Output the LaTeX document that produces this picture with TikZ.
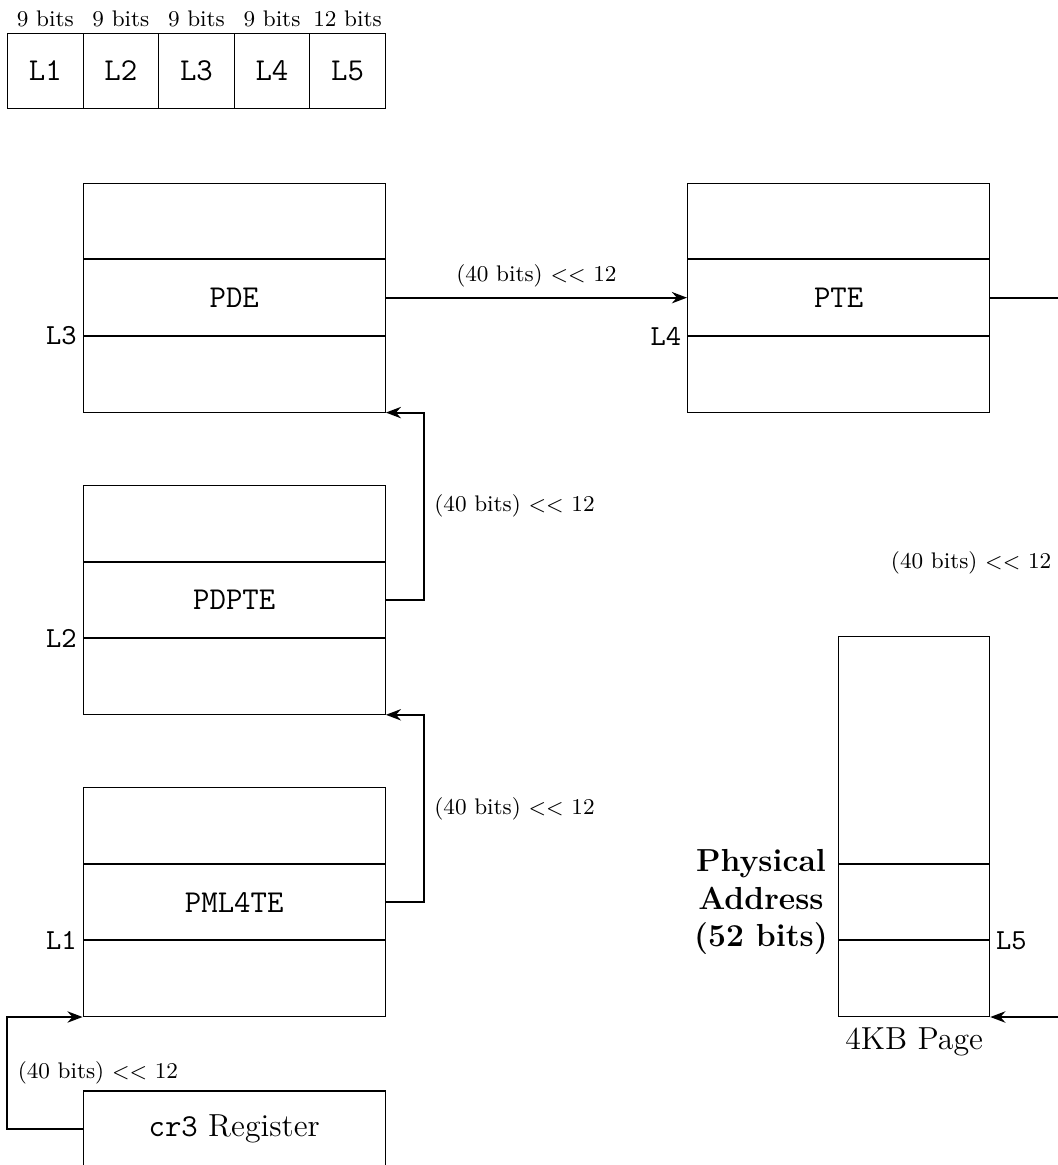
\documentclass[tikz,border=0pt,11pt]{standalone}
\usepackage{amsmath,amssymb}
\usetikzlibrary{arrows.meta, positioning, calc}

\begin{document}
\begin{tikzpicture}[
    node distance=0cm,
    cell/.style={rectangle, draw, minimum width=1cm, minimum height=1cm, inner sep=0pt, font=\large\ttfamily},
    entry/.style={rectangle, draw, minimum width=4cm, minimum height=1cm, inner sep=0pt, font=\large\ttfamily},
    pagepart/.style={rectangle, draw, minimum width=2cm, minimum height=1cm, inner sep=0pt},
    arrow/.style={-{Stealth[length=2mm]}, thick},
    shiftlabel/.style={font=\fontsize{8.5}{10}\selectfont},
    level/.style={font=\ttfamily, inner sep=2pt}
]
\useasboundingbox (-0.1,0.44) rectangle (13.9,-14.98);

% Virtual address fields
\foreach \i/\bits in {1/9, 2/9, 3/9, 4/9, 5/12} {
    \node[cell] (field\i) at (\i-0.5,-0.5) {L\i};
    \node[shiftlabel, above, inner sep=2pt] (bits\i) at (field\i.north) {\bits~bits};
}

% Left column: page-table entries
\node[entry] (pde) at (3,-3.5) {PDE};
\node[entry, above=of pde] (pde_top) {};
\node[entry, below=of pde] (pde_bot) {};

\node[entry] (pdpte) at (3,-7.5) {PDPTE};
\node[entry, above=of pdpte] (pdpte_top) {};
\node[entry, below=of pdpte] (pdpte_bot) {};

\node[entry] (pml4te) at (3,-11.5) {PML4TE};
\node[entry, above=of pml4te] (pml4te_top) {};
\node[entry, below=of pml4te] (pml4te_bot) {};

\node[entry, font=\large\normalfont] (cr3) at (3,-14.5) {\texttt{cr3} Register};

% Right column: PTE and the page
\node[entry] (pte) at (11,-3.5) {PTE};
\node[entry, above=of pte] (pte_top) {};
\node[entry, below=of pte] (pte_bot) {};

\node[pagepart] (page_mid) at (12,-11.5) {};
\node[pagepart, minimum height=3cm, above=of page_mid] (page_top) {};
\node[pagepart, below=of page_mid] (page_bot) {};

% Level labels
\node[level, left] (lvl1) at (pml4te_bot.north west) {L1};
\node[level, left] (lvl2) at (pdpte_bot.north west) {L2};
\node[level, left] (lvl3) at (pde_bot.north west) {L3};
\node[level, left] (lvl4) at (pte_bot.north west) {L4};
\node[level, right] (lvl5) at (page_bot.north east) {L5};

\node[left, font=\large\bfseries, align=center] (phys) at (page_mid.west) {Physical\\Address\\(52 bits)};
\node[below, font=\large, inner sep=4pt] (pagename) at (page_bot.south) {4KB Page};

% Arrows
\draw[arrow] (cr3.west) -- ++(-1,0) |- node[shiftlabel, right, pos=0.25] (sh1) {(40 bits) $<<$ 12} (pml4te_bot.south west);
\draw[arrow] (pml4te.east) -- ++(0.5,0) |- node[shiftlabel, right, pos=0.25] (sh2) {(40 bits) $<<$ 12} (pdpte_bot.south east);
\draw[arrow] (pdpte.east) -- ++(0.5,0) |- node[shiftlabel, right, pos=0.25] (sh3) {(40 bits) $<<$ 12} (pde_bot.south east);
\draw[arrow] (pde.east) -- node[shiftlabel, above] (sh4) {(40 bits) $<<$ 12} (pte.west);
\draw[arrow] (pte.east) -- ++(1,0) |- node[shiftlabel, left, pos=0.184, xshift=-0.5mm] (sh5) {(40 bits) $<<$ 12} (page_bot.south east);
\end{tikzpicture}
\end{document}
